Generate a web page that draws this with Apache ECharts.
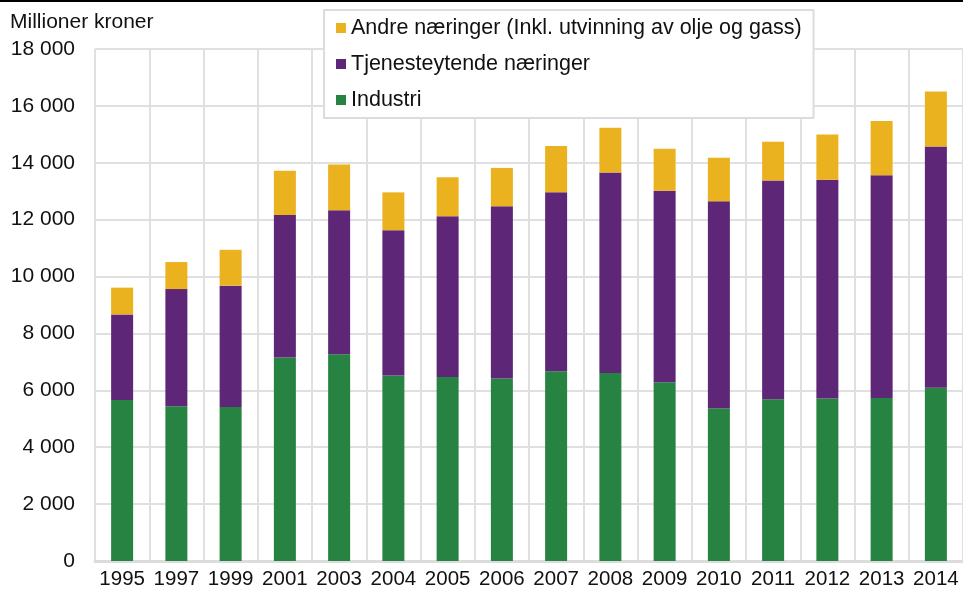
<!DOCTYPE html>
<html>
<head>
<meta charset="utf-8">
<script src="https://cdn.jsdelivr.net/npm/echarts@6/dist/echarts.min.js"></script>
<style>
  html, body { margin: 0; padding: 0; background: #fff; }
  #chart { width: 963px; height: 590px; }
</style>
</head>
<body>
<div id="chart"></div>
<script>
// data (millioner kroner)
const years = ['1995', '1997', '1999', '2001', '2003', '2004', '2005', '2006',
  '2007', '2008', '2009', '2010', '2011', '2012', '2013', '2014'];
const industri = [5660, 5440, 5410, 7150, 7270, 6520, 6470, 6420, 6670, 6610, 6280, 5370, 5690, 5710, 5730, 6090];
const tjenester = [3010, 4120, 4270, 5010, 5060, 5110, 5650, 6050, 6290, 7050, 6740, 7280, 7690, 7690, 7830, 8480];
const andre = [940, 950, 1260, 1560, 1610, 1330, 1370, 1350, 1630, 1570, 1470, 1530, 1360, 1590, 1910, 1940];
const seriesNames = ['Industri', 'Tjenesteytende næringer', 'Andre næringer (Inkl. utvinning av olje og gass)'];

const font = "'Liberation Sans', Arial, sans-serif";
const colors = ['#278341', '#5e2677', '#ebb220'];

const fmt = (v) => String(v).replace(/\B(?=(\d{3})+(?!\d))/g, ' ');

const chart = echarts.init(document.getElementById('chart'));

const bar = (name, data, color) => ({
  name,
  type: 'bar',
  stack: 'total',
  barWidth: 22,
  itemStyle: { color },
  emphasis: { disabled: true },
  data
});

chart.setOption({
  animation: false,
  backgroundColor: '#fff',
  textStyle: { fontFamily: font },
  title: {
    text: 'Millioner kroner',
    left: 10, top: 12, padding: 0,
    textStyle: { fontFamily: font, fontSize: 21, fontWeight: 'normal', color: '#111' }
  },
  graphic: [{
    type: 'line',
    shape: { x1: 0, y1: 1, x2: 963, y2: 1 },
    style: { stroke: '#000', lineWidth: 2 }
  }],
  legend: {
    data: [seriesNames[2], seriesNames[1], seriesNames[0]],
    orient: 'vertical',
    left: 324, top: 10,
    padding: [7, 12, 7, 12],
    itemGap: 14,
    itemWidth: 10, itemHeight: 10,
    icon: 'rect',
    backgroundColor: '#fff',
    borderColor: '#dcdcdc',
    borderWidth: 2,
    textStyle: { fontFamily: font, fontSize: 21.5, color: '#111' },
    selectedMode: false,
    z: 10
  },
  grid: { left: 95, top: 49, width: 874, height: 515 },
  xAxis: {
    type: 'category',
    data: years,
    axisLine: { lineStyle: { color: '#dcdcdc', width: 3 } },
    axisTick: { show: false },
    axisLabel: { color: '#111', fontSize: 20.5, margin: 8, interval: 0 },
    splitLine: { show: true, interval: 0, lineStyle: { color: '#e0e0e0', width: 2 } }
  },
  yAxis: {
    type: 'value',
    min: 0, max: 18000, interval: 2000,
    axisLine: { show: false },
    axisTick: { show: false },
    axisLabel: { color: '#111', fontSize: 21, margin: 20, formatter: fmt },
    splitLine: { lineStyle: { color: '#e0e0e0', width: 2 } }
  },
  series: [
    bar(seriesNames[0], industri, colors[0]),
    bar(seriesNames[1], tjenester, colors[1]),
    bar(seriesNames[2], andre, colors[2])
  ]
});
</script>
</body>
</html>
